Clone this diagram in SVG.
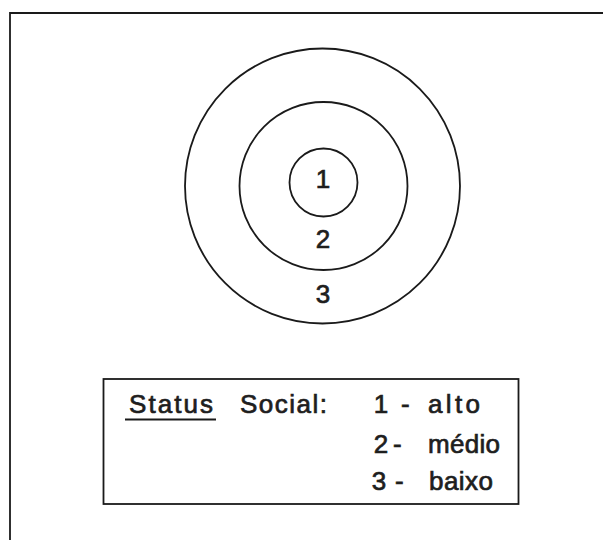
<svg xmlns="http://www.w3.org/2000/svg" width="603" height="540" viewBox="0 0 603 540">
<style>
.ln{fill:none;stroke:#1a1a1a;stroke-width:1.8}
.t{font-family:"Liberation Sans","DejaVu Sans",sans-serif;font-size:26px;fill:#1e1e1e;stroke:#1e1e1e;stroke-width:0.7}
.c{text-anchor:middle}
</style>
<rect width="603" height="540" fill="#ffffff"/>
<path class="ln" d="M10,540 V13 H603" stroke-width="2.6"/>
<g id="outer">
<circle class="ln" cx="322.5" cy="186" r="137.5"/>
<text class="t c" x="323" y="303">3</text>
</g>
<g id="middle">
<circle class="ln" cx="323.5" cy="186" r="84"/>
<text class="t c" x="323" y="248">2</text>
</g>
<g id="inner">
<circle class="ln" cx="323.5" cy="182.5" r="34"/>
<text class="t c" x="323" y="188">1</text>
</g>
<g id="legend">
<rect class="ln" x="103.5" y="379" width="415" height="125"/>
<text class="t" x="129" y="413" textLength="84" lengthAdjust="spacing">Status</text>
<line class="ln" x1="125" y1="419.5" x2="216" y2="419.5"/>
<text class="t" x="240" y="413" textLength="87" lengthAdjust="spacing">Social:</text>
<text class="t c" x="381" y="413">1</text>
<text class="t" x="401" y="413">-</text>
<text class="t" x="428" y="413" textLength="52" lengthAdjust="spacing">alto</text>
<text class="t c" x="381" y="453">2</text>
<text class="t" x="393" y="453">-</text>
<text class="t" x="428" y="453" textLength="72" lengthAdjust="spacing">médio</text>
<text class="t c" x="379" y="490">3</text>
<text class="t" x="395" y="490">-</text>
<text class="t" x="429" y="490" textLength="64" lengthAdjust="spacing">baixo</text>
</g>
</svg>
